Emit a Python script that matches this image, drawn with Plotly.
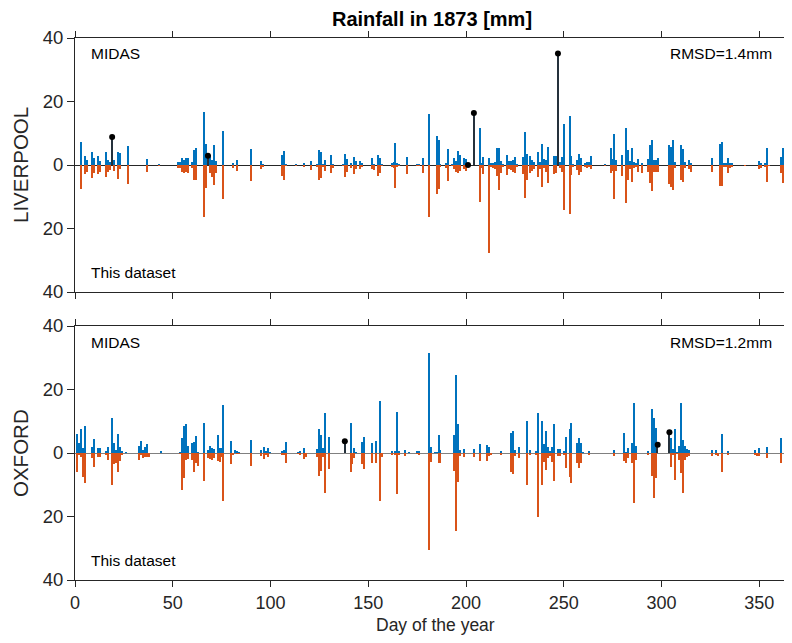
import plotly.graph_objects as go

# ---------------- data (mm) ----------------
liv_days = [3, 5, 6, 9, 10, 12, 13, 16, 17, 18, 20, 22, 23, 27, 37, 43, 53, 54, 55, 56, 57, 58, 60, 61, 62,
            66, 67, 69, 70, 71, 72, 76, 81, 83, 90, 95, 96, 106, 107, 108, 113, 117, 121, 124, 125, 126, 127,
            128, 131, 132, 137, 138, 139, 141, 143, 144, 146, 147, 152, 153, 155, 156, 157, 162, 163, 164, 165,
            166, 170, 175, 176, 178, 181, 185, 186, 187, 190, 191, 193, 194, 195, 196, 197, 199, 200, 207, 208,
            209, 212, 213, 214, 215, 216, 217, 218, 219, 221, 222, 223, 224, 225, 226, 229, 230, 231, 233, 234,
            235, 237, 238, 239, 240, 241, 242, 245, 246, 248, 249, 250, 253, 254, 255, 257, 258, 259, 261, 262,
            263, 264, 271, 274, 275, 276, 277, 280, 282, 283, 284, 285, 286, 287, 288, 290, 293, 294, 295, 296,
            297, 298, 304, 305, 306, 307, 310, 311, 312, 314, 315, 326, 330, 331, 332, 333, 334, 335, 336, 343,
            350, 351, 353, 354, 355, 361, 362]
liv_midas = [7.3, 2.8, 1.6, 4.2, 2.3, 2.9, 1.4, 4.0, 1.6, 1.0, 1.6, 4.2, 3.7, 6.0, 1.9, 0.3, 0.8, 1.0, 2.1, 1.6,
             2.1, 2.1, 1.0, 4.6, 5.2, 16.8, 6.7, 3.1, 1.6, 6.3, 1.3, 10.7, 0.7, 1.6, 4.9, 1.2, 0.3, 3.1, 4.4,
             0.3, 0.3, 0.4, 1.4, 0.3, 4.6, 4.0, 0.3, 1.7, 3.1, 0.2, 0.2, 3.5, 1.9, 0.6, 2.6, 1.2, 1.2, 0.6, 2.3,
             0.3, 3.1, 2.1, 0.3, 0.6, 0.9, 6.9, 0.4, 0.2, 2.6, 0.3, 0.2, 2.2, 16.2, 9.1, 7.9, 0.3, 0.7, 5.0,
             0.3, 2.1, 1.3, 4.4, 3.1, 2.1, 1.9, 11.5, 0.5, 2.6, 2.3, 0.5, 0.5, 0.8, 5.5, 5.5, 1.4, 0.3, 3.1,
             1.4, 1.4, 1.6, 2.4, 0.3, 2.6, 10.3, 3.5, 2.7, 1.6, 1.0, 4.0, 1.0, 6.7, 1.9, 1.6, 5.7, 2.8, 2.8,
             0.8, 2.6, 13.0, 15.5, 2.8, 0.3, 1.6, 3.5, 2.1, 0.5, 0.8, 1.0, 2.8, 0.3, 5.5, 1.9, 9.7, 1.6, 3.1,
             11.8, 4.7, 1.3, 5.2, 0.8, 0.7, 1.9, 0.5, 1.9, 6.3, 7.8, 1.6, 1.6, 2.1, 6.3, 5.8, 7.9, 1.0, 6.3,
             5.0, 0.8, 1.6, 0.7, 2.3, 6.5, 7.1, 0.5, 0.5, 2.3, 0.5, 0.5, 0.0, 1.4, 0.5, 0.5, 5.2, 0.0, 2.6, 5.5]
liv_dataset = [7.7, 2.9, 2.1, 4.2, 2.4, 2.9, 2.1, 3.9, 2.1, 1.6, 1.9, 4.5, 1.3, 6.1, 2.1, 0.3, 0.8, 1.0, 2.1,
               2.4, 2.3, 2.4, 1.0, 4.7, 4.7, 16.5, 7.3, 2.6, 3.7, 6.3, 2.6, 10.8, 0.8, 1.8, 5.0, 1.3, 0.5, 3.4,
               4.6, 0.3, 0.3, 0.5, 1.6, 0.4, 4.7, 4.2, 0.5, 1.9, 2.6, 0.8, 0.2, 3.7, 2.1, 0.8, 2.8, 1.3, 1.3,
               0.7, 1.3, 1.6, 3.4, 2.4, 0.3, 0.7, 1.0, 7.1, 0.4, 0.2, 2.8, 0.3, 0.2, 2.4, 16.3, 9.1, 7.7, 0.7,
               0.8, 5.0, 0.3, 1.3, 2.1, 2.6, 1.9, 1.3, 1.9, 11.5, 0.8, 2.8, 27.8, 0.5, 0.8, 1.3, 3.4, 7.9, 2.4,
               0.5, 3.1, 1.4, 1.6, 2.1, 2.6, 0.5, 2.8, 10.3, 4.7, 2.6, 1.9, 1.3, 3.7, 1.3, 6.8, 1.0, 2.1, 5.8,
               2.9, 2.6, 1.0, 2.1, 14.2, 15.5, 3.1, 0.5, 1.6, 3.1, 2.1, 0.5, 0.8, 0.7, 1.3, 0.3, 2.6, 1.9, 10.7,
               1.9, 3.4, 11.9, 4.7, 1.3, 5.2, 1.0, 0.7, 2.1, 2.4, 2.1, 5.6, 8.2, 2.1, 2.1, 2.1, 6.1, 6.8, 7.9,
               1.0, 4.7, 5.5, 1.0, 1.3, 2.3, 2.3, 6.6, 6.6, 0.7, 0.5, 2.4, 1.0, 0.5, 0.3, 1.4, 0.8, 0.5, 5.2,
               0.3, 2.6, 5.6]
liv_gap_days = [19, 68, 201, 204, 247]
liv_gap_midas = [8.8, 2.9, 0.0, 16.4, 35.1]

oxf_days = [1, 2, 3, 4, 5, 9, 10, 12, 13, 16, 17, 19, 20, 21, 22, 23, 24, 26, 33, 34, 35, 36, 37, 38, 44, 54,
            55, 56, 57, 58, 60, 61, 62, 63, 66, 68, 69, 70, 71, 73, 74, 75, 76, 80, 81, 82, 83, 84, 90, 95, 97,
            98, 99, 100, 106, 107, 108, 114, 115, 117, 118, 124, 125, 126, 127, 128, 130, 141, 142, 143, 144,
            147, 148, 152, 154, 156, 157, 162, 164, 165, 166, 169, 171, 175, 176, 181, 182, 184, 185, 186, 187,
            194, 195, 196, 197, 199, 204, 207, 211, 212, 213, 218, 223, 224, 225, 227, 231, 233, 236, 237, 239,
            240, 241, 242, 243, 244, 245, 247, 248, 250, 251, 253, 254, 257, 258, 259, 260, 263, 276, 281, 282,
            283, 285, 286, 287, 293, 295, 296, 297, 305, 306, 307, 308, 309, 310, 311, 312, 313, 314, 326, 328,
            329, 331, 334, 348, 349, 350, 354, 361]
oxf_midas = [5.9, 3.0, 7.6, 1.5, 8.5, 2.0, 4.4, 1.5, 1.5, 0.4, 1.8, 10.9, 3.0, 0.9, 5.9, 2.0, 0.4, 0.3, 2.2,
             3.9, 0.9, 1.8, 2.8, 0.0, 0.6, 0.3, 4.6, 8.5, 9.1, 2.2, 3.3, 3.6, 5.4, 0.3, 9.6, 0.9, 2.2, 1.5,
             1.3, 5.7, 1.5, 1.5, 15.1, 3.8, 0.0, 0.9, 0.4, 0.3, 4.1, 0.9, 2.0, 0.4, 1.6, 0.3, 0.5, 0.9, 3.4,
             0.3, 0.5, 1.6, 0.0, 1.2, 7.5, 5.7, 1.6, 12.5, 5.0, 9.3, 0.0, 1.6, 0.3, 3.6, 5.1, 3.0, 3.8, 16.5,
             0.0, 0.5, 0.5, 13.0, 0.4, 0.9, 0.2, 0.7, 0.4, 31.6, 1.8, 0.3, 0.3, 5.6, 0.9, 5.7, 24.6, 9.1, 0.9,
             1.3, 1.3, 2.8, 2.5, 1.8, 0.0, 0.4, 6.2, 6.9, 0.9, 1.8, 10.2, 0.9, 0.6, 12.7, 10.2, 2.8, 6.9, 2.0,
             0.7, 2.0, 9.0, 1.3, 1.3, 0.6, 4.9, 7.6, 9.3, 3.0, 4.8, 3.0, 0.3, 0.6, 0.9, 6.2, 0.3, 1.5, 3.0,
             15.6, 2.2, 0.7, 13.8, 10.9, 7.8, 4.6, 1.2, 7.5, 0.3, 2.2, 15.6, 4.1, 2.2, 1.2, 0.9, 0.9, 0.9, 0.0,
             5.9, 0.6, 0.9, 0.0, 1.5, 2.0, 4.6]
oxf_dataset = [5.9, 0.6, 1.4, 7.5, 9.6, 1.7, 4.3, 1.4, 1.2, 0.4, 2.2, 10.1, 3.5, 3.3, 5.9, 2.4, 0.4, 0.0, 2.2,
               0.6, 1.7, 1.2, 1.4, 1.2, 0.0, 0.3, 11.7, 8.0, 2.2, 2.0, 2.2, 6.1, 3.0, 4.1, 8.8, 1.7, 2.0, 2.2,
               1.7, 2.5, 2.7, 1.2, 15.1, 3.5, 0.6, 0.0, 0.3, 0.3, 4.0, 0.9, 2.0, 0.4, 1.4, 0.0, 0.5, 0.6, 3.3,
               0.3, 0.5, 2.0, 1.4, 1.2, 7.1, 5.6, 1.4, 12.5, 5.0, 6.1, 3.5, 1.5, 0.0, 3.5, 5.0, 3.0, 3.3, 15.1,
               1.2, 0.5, 0.5, 12.9, 0.4, 0.9, 0.0, 0.3, 0.5, 30.6, 2.7, 0.0, 0.0, 3.3, 3.3, 5.6, 24.5, 9.0, 0.9,
               1.2, 1.2, 2.5, 2.4, 0.8, 0.6, 0.4, 5.9, 6.7, 0.9, 1.7, 10.1, 0.6, 0.6, 20.3, 10.1, 2.7, 5.4, 1.7,
               0.9, 2.7, 8.8, 0.9, 0.9, 0.6, 4.8, 7.5, 9.3, 3.0, 4.8, 3.0, 0.0, 0.6, 0.9, 2.4, 3.3, 1.7, 3.3,
               15.6, 2.2, 0.6, 7.2, 14.3, 7.8, 4.5, 0.6, 8.5, 0.3, 2.2, 6.2, 12.5, 2.2, 1.2, 0.9, 0.9, 0.6, 0.9,
               5.9, 0.4, 0.6, 0.9, 0.9, 1.7, 3.0]
oxf_gap_days = [138, 298, 304]
oxf_gap_midas = [3.7, 2.6, 6.5]

x_ticks = [0, 50, 100, 150, 200, 250, 300, 350]
y_ticks = [-40, -20, 0, 20, 40]
y_tick_text = ["40", "20", "0", "20", "40"]
stations = ["LIVERPOOL", "OXFORD"]
rmsd_text = ["RMSD=1.4mm", "RMSD=1.2mm"]

BLUE = "#0072BD"
ORANGE = "#D95319"
AX = "#262626"
FONT = "Liberation Sans, Arial, sans-serif"

# The page body adds an 8px margin on every side; the figure is sized so the page
# does not overflow the 792x643 window, and positions below are page pixels.
OFF = 8
W, H = 792 - 2 * OFF, 643 - 2 * OFF
L = 75 - OFF          # plot left edge at page x = 75
R = 0
PW = W - L - R
X_MAX = 362.6         # keeps the last days visible inside the figure


def px_x(p):
    return (p - OFF - L) / PW


def px_y(p):
    return 1 - (p - OFF) / H


fig = go.Figure()

panels = [
    (liv_days, liv_midas, liv_dataset, liv_gap_days, liv_gap_midas, "x", "y"),
    (oxf_days, oxf_midas, oxf_dataset, oxf_gap_days, oxf_gap_midas, "x2", "y2"),
]
for days, midas, dset, gd, gm, xa, ya in panels:
    fig.add_trace(go.Bar(x=days, y=midas, width=0.7, marker=dict(color=BLUE, line=dict(width=0)),
                         xaxis=xa, yaxis=ya, showlegend=False))
    fig.add_trace(go.Bar(x=days, y=[-v for v in dset], width=0.7, marker=dict(color=ORANGE, line=dict(width=0)),
                         xaxis=xa, yaxis=ya, showlegend=False))
    fig.add_trace(go.Bar(x=gd, y=gm, width=0.75, marker=dict(color="#25313c", line=dict(width=0)),
                         xaxis=xa, yaxis=ya, showlegend=False))
    fig.add_trace(go.Scatter(x=gd, y=gm, mode="markers", marker=dict(color="black", size=6),
                             xaxis=xa, yaxis=ya, showlegend=False, cliponaxis=False))

top_dom = [px_y(292), px_y(38)]
bot_dom = [px_y(580), px_y(326)]

xcommon = dict(range=[0, X_MAX], tickvals=x_ticks, ticks="outside", ticklen=6, tickcolor=AX,
               showline=True, linecolor=AX, linewidth=1, mirror="ticks", showgrid=False, zeroline=False,
               tickfont=dict(size=18, color=AX, family=FONT), domain=[0, 1])
ycommon = dict(range=[-40, 40], tickvals=y_ticks, ticktext=y_tick_text, ticks="outside", ticklen=7,
               tickcolor=AX, showline=True, linecolor=AX, linewidth=1, mirror=False, showgrid=False,
               zeroline=True, zerolinewidth=1.2, tickfont=dict(size=18.5, color=AX, family=FONT))

fig.update_layout(
    width=W, height=H,
    margin=dict(l=L, r=R, t=0, b=0, autoexpand=False),
    paper_bgcolor="white", plot_bgcolor="white",
    barmode="overlay", bargap=0,
    font=dict(family=FONT, color=AX),
    xaxis=dict(xcommon, anchor="y", showticklabels=False),
    yaxis=dict(ycommon, domain=top_dom, anchor="x", zerolinecolor="#262626"),
    xaxis2=dict(xcommon, anchor="y2"),
    yaxis2=dict(ycommon, domain=bot_dom, anchor="x2", zerolinecolor="#808080"),
)

ann = []
ann.append(dict(text="<b>Rainfall in 1873 [mm]</b>", x=px_x(432), y=px_y(19), xref="paper", yref="paper",
                showarrow=False, font=dict(size=20, color="black", family=FONT), xanchor="center", yanchor="middle"))
ann.append(dict(text="Day of the year", x=px_x(435), y=px_y(625), xref="paper", yref="paper",
                showarrow=False, font=dict(size=17.5, color=AX, family=FONT), xanchor="center", yanchor="middle"))
for i, (top, bottom) in enumerate([(38, 292), (326, 580)]):
    mid = (top + bottom) / 2
    ann.append(dict(text=stations[i], x=px_x(20), y=px_y(mid), xref="paper", yref="paper", showarrow=False,
                    textangle=-90, font=dict(size=20.5, color=AX, family=FONT), xanchor="center", yanchor="middle"))
    ann.append(dict(text="MIDAS", x=px_x(89), y=px_y(top + 16), xref="paper", yref="paper", showarrow=False,
                    font=dict(size=15.5, color="black", family=FONT), xanchor="left", yanchor="middle"))
    ann.append(dict(text=rmsd_text[i], x=px_x(774), y=px_y(top + 16), xref="paper", yref="paper",
                    showarrow=False, font=dict(size=15.5, color="black", family=FONT), xanchor="right",
                    yanchor="middle"))
    ann.append(dict(text="This dataset", x=px_x(89), y=px_y(bottom - 20), xref="paper", yref="paper",
                    showarrow=False, font=dict(size=15.5, color="black", family=FONT), xanchor="left",
                    yanchor="middle"))
fig.update_layout(annotations=ann)

fig.write_html("out.html")
